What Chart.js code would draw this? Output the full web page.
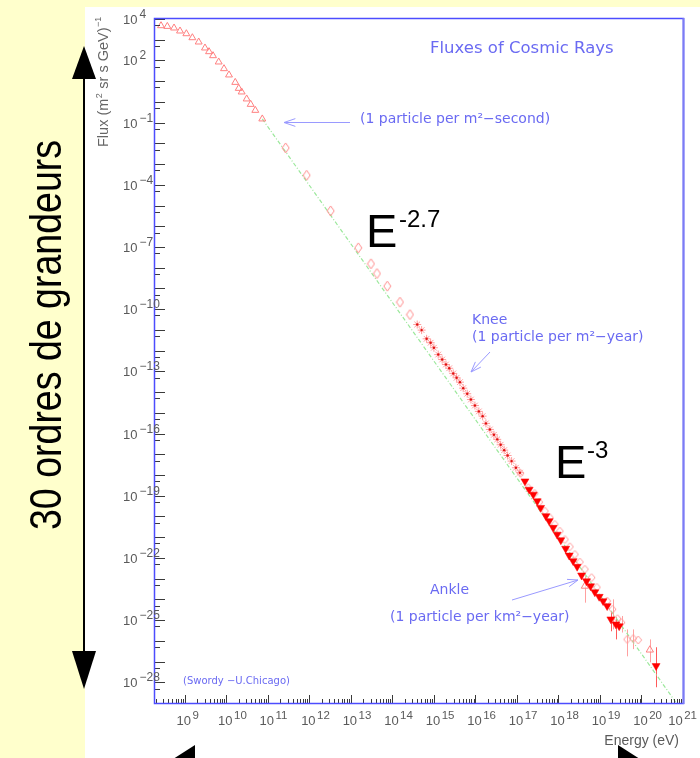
<!DOCTYPE html>
<html>
<head>
<meta charset="utf-8">
<script src="https://cdn.jsdelivr.net/npm/chart.js@4/dist/chart.umd.min.js"></script>
<style>
  html, body { margin: 0; padding: 0; background: #ffffcc; }
  #wrap { position: relative; width: 700px; height: 758px; }
</style>
</head>
<body>
<div id="wrap"><canvas id="flux" width="700" height="758"></canvas></div>
<script>
// Cosmic-ray flux, energy in eV, flux in (m^2 sr s GeV)^-1

// Direct measurements at low energy (open triangles)
const lowE = [2.67e8, 3.79e8, 5.50e8, 7.66e8, 1.09e9, 1.52e9, 2.16e9, 3.06e9, 3.83e9, 4.78e9,
              6.55e9, 8.79e9, 1.16e10, 1.64e10, 1.99e10, 2.34e10, 3.09e10, 3.86e10, 4.99e10, 7.35e10];
const lowF = [4750, 4400, 3680, 2640, 1950, 1250, 778, 400, 265, 170,
              84.5, 40.2, 20.0, 8.77, 4.51, 3.02, 1.39, 0.762, 0.392, 0.151];

// Balloon / satellite data (open diamonds)
const midE = [2.69e11, 8.61e11, 3.26e12, 1.51e13, 3.05e13, 4.25e13, 7.52e13, 1.52e14, 2.65e14];
const midF = [6.03e-3, 2.88e-4, 5.53e-6, 9.12e-8, 1.55e-8, 5.25e-9, 1.29e-9, 2.19e-10, 5.50e-11];

// Air-shower data around the knee (stars)
const kneeE = [3.96e14, 5.06e14, 6.68e14, 8.34e14, 1.00e15, 1.27e15, 1.58e15, 1.95e15, 2.34e15, 2.92e15,
               3.52e15, 4.24e15, 5.08e15, 6.34e15, 7.78e15, 9.72e15, 1.21e16, 1.49e16, 1.79e16, 2.23e16,
               2.79e16, 3.35e16, 4.05e16, 4.93e16, 5.96e16, 7.43e16, 9.44e16, 1.18e17];
const kneeF = [1.82e-11, 9.77e-12, 3.72e-12, 2.40e-12, 1.38e-12, 6.46e-13, 3.72e-13, 2.14e-13, 1.41e-13, 7.94e-14,
               4.90e-14, 3.02e-14, 1.55e-14, 8.32e-15, 4.37e-15, 2.24e-15, 1.17e-15, 6.92e-16, 3.09e-16, 1.58e-16,
               8.71e-17, 5.25e-17, 2.88e-17, 1.58e-17, 8.71e-18, 4.68e-18, 2.24e-18, 1.29e-18];

// Highest-energy air-shower data (filled down triangles)
const ankleE = [1.56e17, 1.97e17, 2.47e17, 3.08e17, 3.72e17, 4.98e17, 5.98e17, 7.46e17, 9.31e17, 1.14e18,
                1.49e18, 1.81e18, 2.26e18, 2.82e18, 3.61e18, 4.75e18, 5.94e18, 7.53e18, 9.57e18, 1.19e19,
                1.49e19, 1.83e19, 2.42e19, 2.90e19, 2.25e20];
const ankleF = [5.01e-19, 2.00e-19, 1.15e-19, 5.50e-20, 2.63e-20, 1.05e-20, 6.03e-21, 2.88e-21, 1.35e-21, 7.24e-22,
                2.82e-22, 1.32e-22, 7.08e-23, 3.80e-23, 1.45e-23, 7.59e-24, 4.37e-24, 2.24e-24, 1.35e-24, 8.32e-25,
                4.79e-25, 1.10e-25, 6.31e-26, 5.13e-26, 6.17e-28];

// Highest-energy air-shower data (open diamonds)
const uheE = [1.22e17, 1.87e17, 2.68e17, 3.44e17, 4.71e17, 6.22e17, 8.20e17, 1.08e18, 1.43e18, 1.89e18,
              2.49e18, 3.29e18, 4.34e18, 6.28e18, 8.43e18, 1.49e19, 2.01e19, 2.65e19, 3.31e19, 4.52e19,
              6.30e19, 8.32e19];
const uheF = [1.20e-18, 2.45e-19, 1.29e-19, 4.90e-20, 1.82e-20, 8.71e-21, 4.17e-21, 1.95e-21, 7.76e-22, 3.47e-22,
              1.48e-22, 6.31e-23, 2.82e-23, 1.12e-23, 3.80e-24, 8.32e-25, 3.31e-25, 1.17e-25, 7.59e-26, 1.17e-26,
              1.29e-26, 1.10e-26];

// Highest-energy air-shower data (open triangles)
const uheTriE = [4.34e18, 1.59e20];
const uheTriF = [4.37e-24, 3.63e-27];

// Vertical error bars: energy, upper and lower flux
const barE    = [1.83e19, 2.42e19, 2.25e20, 4.34e18, 1.59e20, 2.01e19, 3.31e19, 4.52e19, 6.30e19];
const barHigh = [2.63e-25, 1.35e-25, 4.90e-27, 1.32e-23, 1.17e-26, 1.00e-24, 1.58e-25, 3.55e-26, 3.55e-26];
const barLow  = [2.88e-26, 1.17e-26, 5.75e-29, 6.92e-25, 9.12e-28, 3.55e-26, 2.51e-26, 1.78e-27, 3.98e-27];
const barRed  = [true, true, true, false, false, false, false, false, false];

// Power-law guide line
const guideE = [7.35e10, 6.9e20];
const guideF = [0.151, 1.0e-29];

// Axis tick labels (powers of ten)
const xTickExponents = [9, 10, 11, 12, 13, 14, 15, 16, 17, 18, 19, 20, 21];
const yTickExponents = [4, 2, -1, -4, -7, -10, -13, -16, -19, -22, -25, -28];

const pts = (xs, ys) => xs.map((x, i) => ({ x: x, y: ys[i] }));

function diamondMarker(w, h, color) {
  const c = document.createElement('canvas');
  c.width = w + 2; c.height = h + 2;
  const g = c.getContext('2d');
  g.strokeStyle = color; g.lineWidth = 1;
  g.beginPath();
  g.moveTo(c.width / 2, 1); g.lineTo(c.width - 1, c.height / 2);
  g.lineTo(c.width / 2, c.height - 1); g.lineTo(1, c.height / 2);
  g.closePath(); g.stroke();
  return c;
}

const PINK = '#ff8a8a';
const diamondBig = diamondMarker(7, 10, PINK);
const diamondSmall = diamondMarker(7, 8, '#ff9c9c');

const SANS = '"Liberation Sans", Arial, sans-serif';
const ROUND = '"DejaVu Sans", sans-serif';

// Text made of runs with optional vertical shift (for exponents)
function runsWidth(ctx, runs) {
  let w = 0;
  for (const r of runs) { ctx.font = r.font; w += ctx.measureText(r.t).width + (r.gap || 0); }
  return w;
}
function drawRuns(ctx, runs, x, y) {
  let cx = x;
  for (const r of runs) {
    ctx.font = r.font;
    cx += (r.gap || 0);
    ctx.fillText(r.t, cx, y + (r.dy || 0));
    cx += ctx.measureText(r.t).width;
  }
}
function expLabel(e) { return e < 0 ? '\u2212' + (-e) : String(e); }

function openArrow(ctx, x1, y1, x2, y2, len, spread) {
  ctx.beginPath(); ctx.moveTo(x1, y1); ctx.lineTo(x2, y2); ctx.stroke();
  const a = Math.atan2(y2 - y1, x2 - x1);
  ctx.beginPath();
  ctx.moveTo(x2 - len * Math.cos(a - spread), y2 - len * Math.sin(a - spread));
  ctx.lineTo(x2, y2);
  ctx.lineTo(x2 - len * Math.cos(a + spread), y2 - len * Math.sin(a + spread));
  ctx.stroke();
}
function solidHead(ctx, tx, ty, bx1, by1, bx2, by2) {
  ctx.beginPath(); ctx.moveTo(tx, ty); ctx.lineTo(bx1, by1); ctx.lineTo(bx2, by2); ctx.closePath(); ctx.fill();
}

const decorations = {
  id: 'decorations',
  beforeDraw(chart) {
    const ctx = chart.ctx;
    ctx.save();
    ctx.fillStyle = '#ffffcc';
    ctx.fillRect(0, 0, chart.width, chart.height);
    ctx.fillStyle = '#ffffff';
    ctx.fillRect(85, 7, chart.width - 85, chart.height - 7);
    ctx.restore();
  },
  beforeDatasetsDraw(chart) {
    const ctx = chart.ctx, xs = chart.scales.x, ys = chart.scales.y, a = chart.chartArea;
    ctx.save();
    ctx.beginPath(); ctx.rect(a.left, a.top, a.right - a.left, a.bottom - a.top); ctx.clip();
    ctx.lineWidth = 1;
    barE.forEach((e, i) => {
      const px = Math.round(xs.getPixelForValue(e)) + 0.5;
      ctx.strokeStyle = barRed[i] ? '#ff5a5a' : '#ffa0a0';
      ctx.beginPath();
      ctx.moveTo(px, ys.getPixelForValue(barHigh[i]));
      ctx.lineTo(px, ys.getPixelForValue(barLow[i]));
      ctx.stroke();
    });
    ctx.restore();
  },
  afterDatasetsDraw(chart) {
    const ctx = chart.ctx, xs = chart.scales.x, ys = chart.scales.y, a = chart.chartArea;
    ctx.save();

    // ticks on the bottom axis (inside the frame)
    ctx.strokeStyle = '#3a3a3a'; ctx.lineWidth = 1;
    for (let n = 8; n <= 21; n++) {
      for (let k = 1; k <= 9; k++) {
        const v = k * Math.pow(10, n);
        if (v < xs.min || v > xs.max * 1.0001) continue;
        const px = Math.round(xs.getPixelForValue(v)) + 0.5;
        const len = k === 1 ? 8 : 4;
        ctx.beginPath(); ctx.moveTo(px, a.bottom); ctx.lineTo(px, a.bottom - len); ctx.stroke();
      }
    }
    // ticks on the left axis
    for (let n = -29; n <= 4; n++) {
      [[1, 10], [5, 5]].forEach(([k, len]) => {
        const v = k * Math.pow(10, n);
        if (v < ys.min * 0.9999 || v > ys.max * 1.0001) return;
        const py = Math.round(ys.getPixelForValue(v)) + 0.5;
        ctx.beginPath(); ctx.moveTo(a.left, py); ctx.lineTo(a.left + len, py); ctx.stroke();
      });
    }

    // frame
    ctx.strokeStyle = '#4d4dff'; ctx.lineWidth = 1.5;
    ctx.strokeRect(a.left - 0.5, a.top - 0.5, a.right - a.left + 1, a.bottom - a.top + 1);
    ctx.strokeStyle = '#7c7cf4'; ctx.lineWidth = 2;
    ctx.beginPath(); ctx.moveTo(a.right + 0.5, a.top - 1); ctx.lineTo(a.right + 0.5, a.bottom + 1); ctx.stroke();

    // tick labels
    ctx.fillStyle = '#5a5a5a';
    ctx.textBaseline = 'alphabetic'; ctx.textAlign = 'left';
    const baseFont = '13px ' + SANS, supFont = '12px ' + SANS, xSupFont = '11.5px ' + SANS;
    yTickExponents.forEach(e => {
      const py = ys.getPixelForValue(Math.pow(10, e));
      drawRuns(ctx, [{ t: '10', font: baseFont }, { t: expLabel(e), font: supFont, dy: -6, gap: 2 }], 123, py + 5);
    });
    xTickExponents.forEach(e => {
      const px = xs.getPixelForValue(Math.pow(10, e));
      const runs = [{ t: '10', font: baseFont }, { t: String(e), font: xSupFont, dy: -6, gap: 1.5 }];
      ctx.font = baseFont;
      const w = ctx.measureText('10').width;
      // keep the last label inside the page
      const x0 = Math.min(px - w / 2 - 1, chart.width - 3 - runsWidth(ctx, runs));
      drawRuns(ctx, runs, x0, 725);
    });

    // axis titles
    ctx.font = '14px ' + SANS;
    ctx.textAlign = 'right';
    ctx.fillText('Energy (eV)', 679, 745);
    ctx.textAlign = 'left';
    ctx.save();
    ctx.translate(108, 147); ctx.rotate(-Math.PI / 2);
    ctx.fillStyle = '#666666';
    drawRuns(ctx, [
      { t: 'Flux (m', font: '14.5px ' + SANS },
      { t: '2', font: '9px ' + SANS, dy: -6, gap: 0.5 },
      { t: ' sr s GeV)', font: '14.5px ' + SANS, gap: 0.5 },
      { t: '\u22121', font: '9px ' + SANS, dy: -7, gap: 0.5 }
    ], 0, 0);
    ctx.restore();

    // annotations
    ctx.fillStyle = '#6a6af2';
    ctx.textBaseline = 'middle';
    ctx.font = '16.5px ' + ROUND;
    ctx.fillText('Fluxes of Cosmic Rays', 430, 49);
    ctx.font = '14px ' + ROUND;
    ctx.fillText('(1 particle per m\u00b2\u2212second)', 360, 119);
    ctx.fillText('Knee', 472, 320);
    ctx.fillText('(1 particle per m\u00b2\u2212year)', 472, 337);
    ctx.fillText('Ankle', 430, 590);
    ctx.fillText('(1 particle per km\u00b2\u2212year)', 390, 617);
    ctx.font = '10px ' + ROUND;
    ctx.fillText('(Swordy \u2212U.Chicago)', 183, 681);

    ctx.strokeStyle = '#9a9aff'; ctx.lineWidth = 1;
    openArrow(ctx, 350, 122.5, 284, 122.5, 12, 0.33);
    openArrow(ctx, 490, 352, 471, 372, 11, 0.35);
    openArrow(ctx, 512, 600, 578, 580, 11, 0.35);

    // power-law labels
    ctx.fillStyle = '#000000';
    ctx.textBaseline = 'alphabetic';
    ctx.font = '47px ' + SANS;
    ctx.fillText('E', 366, 247);
    ctx.fillText('E', 555, 478);
    ctx.font = '24px ' + SANS;
    ctx.fillText('-2.7', 399, 227);
    ctx.fillText('-3', 587, 458);
    ctx.restore();
  },
  afterDraw(chart) {
    const ctx = chart.ctx;
    ctx.save();
    // vertical span arrow with its caption
    ctx.strokeStyle = '#000000'; ctx.fillStyle = '#000000'; ctx.lineWidth = 2;
    ctx.beginPath(); ctx.moveTo(84, 70); ctx.lineTo(84, 660); ctx.stroke();
    solidHead(ctx, 84, 46, 72, 79, 96, 79);
    solidHead(ctx, 84, 689, 72, 651, 96, 651);
    // horizontal span arrow heads at the bottom edge
    solidHead(ctx, 170, 761, 195, 745, 195, 777);
    solidHead(ctx, 643, 761, 618, 745, 618, 777);

    const caption = '30 ordres de grandeurs';
    ctx.font = '44px "Liberation Sans Narrow", ' + SANS;
    const w = ctx.measureText(caption).width;
    ctx.translate(61, 530); ctx.rotate(-Math.PI / 2);
    ctx.scale(390 / w, 1);
    ctx.textBaseline = 'alphabetic'; ctx.textAlign = 'left';
    ctx.fillText(caption, 0, 0);
    ctx.restore();
  }
};

new Chart(document.getElementById('flux'), {
  type: 'scatter',
  data: {
    datasets: [
      { label: 'guide', type: 'line', data: pts(guideE, guideF), showLine: true, pointRadius: 0,
        borderColor: '#9be89b', borderWidth: 1.2, borderDash: [4, 2, 1, 2], fill: false, order: 20 },
      { label: 'low', data: pts(lowE, lowF), pointStyle: 'triangle', pointRadius: 4,
        borderColor: '#ff8080', backgroundColor: 'rgba(0,0,0,0)', borderWidth: 1, order: 8 },
      { label: 'mid', data: pts(midE, midF), pointStyle: diamondBig, pointRadius: 4, order: 7 },
      { label: 'knee', data: pts(kneeE, kneeF), pointStyle: 'star', pointRadius: 4,
        borderColor: '#ff9c9c', backgroundColor: 'rgba(0,0,0,0)', borderWidth: 1, order: 6 },
      { label: 'knee centre', data: pts(kneeE, kneeF), pointStyle: 'circle', pointRadius: 1.2,
        borderColor: '#e01010', backgroundColor: '#e01010', borderWidth: 0, order: 5 },
      { label: 'uhe open', data: pts(uheE, uheF), pointStyle: diamondSmall, pointRadius: 4, order: 4 },
      { label: 'uhe triangles', data: pts(uheTriE, uheTriF), pointStyle: 'triangle', pointRadius: 4.2,
        borderColor: '#ff8080', backgroundColor: 'rgba(255,255,255,0.6)', borderWidth: 1, order: 3 },
      { label: 'ankle', data: pts(ankleE, ankleF), pointStyle: 'triangle', rotation: 180, pointRadius: 4.6,
        borderColor: '#ff0000', backgroundColor: '#ff0000', borderWidth: 0.5, order: 2 }
    ]
  },
  options: {
    responsive: false,
    animation: false,
    devicePixelRatio: 1,
    layout: { padding: { left: 155, right: 17, top: 19, bottom: 55 } },
    plugins: { legend: { display: false }, tooltip: { enabled: false } },
    scales: {
      x: { type: 'logarithmic', min: 1.914e8, max: 1e21, display: false },
      y: { type: 'logarithmic', min: 1e-29, max: 1e4, display: false }
    }
  },
  plugins: [decorations]
});
</script>
</body>
</html>
